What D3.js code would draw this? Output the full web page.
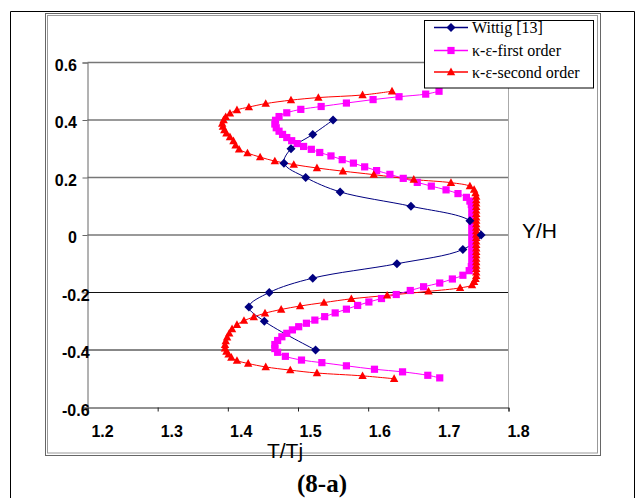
<!DOCTYPE html>
<html>
<head>
<meta charset="utf-8">
<script src="https://cdn.jsdelivr.net/npm/d3@7"></script>
<style>
  html, body { margin: 0; padding: 0; background: #fff; }
  svg { display: block; }
</style>
</head>
<body>
<svg id="chart" width="636" height="498"></svg>
<script>
// ---------------- DATA ----------------
const xTicks = [1.2, 1.3, 1.4, 1.5, 1.6, 1.7, 1.8];
const yTicks = [0.6, 0.4, 0.2, 0, -0.2, -0.4, -0.6];
const seriesNames = ["Wittig [13]", "\u03ba-\u03b5-first order", "\u03ba-\u03b5-second order"];
const xTitle = "T/Tj";
const yTitle = "Y/H";
const caption = "(8-a)";

const wittigT = [1.550, 1.521, 1.490, 1.480, 1.511, 1.560, 1.661, 1.745, 1.761, 1.735, 1.641, 1.521, 1.459, 1.430, 1.452, 1.525];
const wittigY = [0.40, 0.35, 0.30, 0.25, 0.20, 0.15, 0.10, 0.05, 0.00, -0.05, -0.10, -0.15, -0.20, -0.25, -0.30, -0.40];

const firstOrderT = [1.701, 1.682, 1.644, 1.607, 1.569, 1.533, 1.504, 1.484, 1.473, 1.468,
  1.467, 1.469, 1.473, 1.478, 1.484, 1.491, 1.499, 1.508, 1.519, 1.531,
  1.547, 1.563, 1.579, 1.595, 1.612, 1.631, 1.650, 1.670, 1.690, 1.711,
  1.728, 1.740, 1.745, 1.747, 1.748, 1.748, 1.748, 1.748, 1.748, 1.748,
  1.748, 1.748, 1.748, 1.748, 1.748, 1.748, 1.748, 1.748, 1.748, 1.748,
  1.748, 1.747, 1.744, 1.735, 1.720, 1.702, 1.679, 1.660, 1.640, 1.619,
  1.601, 1.585, 1.569, 1.553, 1.538, 1.524, 1.512, 1.501, 1.492, 1.484,
  1.477, 1.471, 1.467, 1.467, 1.471, 1.482, 1.505, 1.534, 1.569, 1.609,
  1.649, 1.685, 1.702];
const firstOrderY = [0.500, 0.490, 0.481, 0.471, 0.459, 0.447, 0.437, 0.425, 0.412, 0.399,
  0.386, 0.373, 0.361, 0.350, 0.339, 0.328, 0.318, 0.308, 0.298, 0.287,
  0.275, 0.262, 0.250, 0.237, 0.224, 0.211, 0.197, 0.183, 0.170, 0.157,
  0.144, 0.131, 0.118, 0.106, 0.094, 0.082, 0.070, 0.058, 0.046, 0.034,
  0.022, 0.010, -0.002, -0.014, -0.026, -0.038, -0.050, -0.062, -0.074, -0.086,
  -0.098, -0.110, -0.124, -0.140, -0.153, -0.167, -0.180, -0.193, -0.207, -0.221,
  -0.233, -0.245, -0.258, -0.271, -0.284, -0.296, -0.307, -0.319, -0.330, -0.342,
  -0.354, -0.367, -0.381, -0.395, -0.408, -0.422, -0.435, -0.444, -0.455, -0.467,
  -0.476, -0.488, -0.497];

const secondOrderT = [1.634, 1.592, 1.529, 1.490, 1.454, 1.430, 1.413, 1.403, 1.397, 1.394,
  1.392, 1.393, 1.395, 1.398, 1.403, 1.408, 1.411, 1.416, 1.428, 1.446,
  1.467, 1.494, 1.527, 1.564, 1.608, 1.665, 1.718, 1.745, 1.751, 1.753,
  1.754, 1.754, 1.754, 1.754, 1.754, 1.754, 1.754, 1.754, 1.754, 1.754,
  1.754, 1.754, 1.754, 1.754, 1.754, 1.754, 1.754, 1.754, 1.754, 1.754,
  1.754, 1.754, 1.754, 1.754, 1.753, 1.751, 1.748, 1.731, 1.686, 1.627,
  1.576, 1.537, 1.503, 1.476, 1.453, 1.437, 1.423, 1.413, 1.406, 1.402,
  1.399, 1.397, 1.396, 1.396, 1.398, 1.401, 1.405, 1.413, 1.429, 1.454,
  1.489, 1.527, 1.592, 1.637];
const secondOrderY = [0.500, 0.487, 0.478, 0.469, 0.457, 0.445, 0.435, 0.423, 0.411, 0.400,
  0.388, 0.377, 0.365, 0.354, 0.341, 0.327, 0.312, 0.298, 0.285, 0.271,
  0.257, 0.245, 0.233, 0.222, 0.210, 0.193, 0.182, 0.170, 0.158, 0.146,
  0.134, 0.122, 0.110, 0.098, 0.086, 0.074, 0.062, 0.050, 0.038, 0.026,
  0.014, 0.002, -0.010, -0.022, -0.034, -0.046, -0.058, -0.070, -0.082, -0.094,
  -0.106, -0.118, -0.130, -0.142, -0.152, -0.163, -0.174, -0.184, -0.196, -0.210,
  -0.222, -0.235, -0.247, -0.259, -0.272, -0.285, -0.298, -0.312, -0.327, -0.342,
  -0.356, -0.369, -0.382, -0.394, -0.405, -0.415, -0.426, -0.437, -0.447, -0.459,
  -0.470, -0.480, -0.490, -0.500];

// ---------------- LAYOUT ----------------
const svg = d3.select("#chart");
const plot = { left: 87.5, right: 508.5, top: 62.5, bottom: 407.5 };
const x = d3.scaleLinear().domain([1.2, 1.8]).range([plot.left, plot.right]);
const y = d3.scaleLinear().domain([-0.6, 0.6]).range([plot.bottom, plot.top]);
const xLabelPos = d3.scaleLinear().domain([1.2, 1.8]).range([102.5, 518.5]);

svg.append("rect").attr("width", 636).attr("height", 498).attr("fill", "#fff");

// outer black frame (open at bottom)
svg.append("path")
  .attr("d", "M10.5,500 V11.5 H634.5 V500")
  .attr("fill", "none").attr("stroke", "#000").attr("stroke-width", 1);

// chart-area double border
svg.append("rect").attr("x", 45.5).attr("y", 13.5).attr("width", 555).attr("height", 442)
  .attr("fill", "none").attr("stroke", "#666").attr("stroke-width", 1);
svg.append("rect").attr("x", 47.5).attr("y", 15.5).attr("width", 550).attr("height", 437.5)
  .attr("fill", "none").attr("stroke", "#999").attr("stroke-width", 1);

// gridlines
svg.append("g").selectAll("line").data(yTicks.filter(v => v > -0.6)).join("line")
  .attr("x1", plot.left).attr("x2", plot.right)
  .attr("y1", d => y(d)).attr("y2", d => y(d))
  .attr("stroke", d => d < 0 ? "#111" : "#777")
  .attr("stroke-width", d => d < 0 ? 1 : 1.3);

// right border of plot area
svg.append("line").attr("x1", plot.right).attr("x2", plot.right)
  .attr("y1", plot.top).attr("y2", plot.bottom)
  .attr("stroke", "#aaa").attr("stroke-width", 1);

// y axis
const yAxis = svg.append("g").attr("transform", `translate(${plot.left},0)`)
  .call(d3.axisLeft(y).tickValues(yTicks).tickSize(5).tickFormat(""));
yAxis.select(".domain").attr("stroke", "#666");
yAxis.selectAll(".tick line").attr("stroke", "#666");
svg.append("g").selectAll("text").data(yTicks).join("text")
  .attr("x", d => d < 0 ? 62 : 77)
  .attr("y", d => y(d) + 8)
  .attr("text-anchor", d => d < 0 ? "start" : "end")
  .attr("font-family", "'Liberation Sans', Arial, sans-serif")
  .attr("font-weight", "bold").attr("font-size", 16)
  .text(d => String(d));

// x axis
const xAxis = svg.append("g").attr("transform", `translate(0,${plot.bottom})`)
  .call(d3.axisBottom(x).tickValues(xTicks).tickSize(4).tickFormat(""));
xAxis.select(".domain").attr("stroke", "#222");
xAxis.selectAll(".tick line").attr("stroke", "#222");
svg.append("g").selectAll("text").data(xTicks).join("text")
  .attr("x", d => xLabelPos(d))
  .attr("y", 437)
  .attr("text-anchor", "middle")
  .attr("font-family", "'Liberation Sans', Arial, sans-serif")
  .attr("font-weight", "bold").attr("font-size", 16)
  .text(d => d.toFixed(1));

// axis titles
svg.append("text").attr("x", 285).attr("y", 458).attr("text-anchor", "middle")
  .attr("font-family", "'Liberation Sans', Arial, sans-serif").attr("font-size", 21)
  .text(xTitle);
svg.append("text").attr("x", 522).attr("y", 238)
  .attr("font-family", "'Liberation Sans', Arial, sans-serif").attr("font-size", 21)
  .text(yTitle);

// caption
svg.append("text").attr("x", 322).attr("y", 492).attr("text-anchor", "middle")
  .attr("font-family", "'Liberation Serif', 'Times New Roman', serif")
  .attr("font-weight", "bold").attr("font-size", 25)
  .text(caption);

// ---------------- SERIES ----------------
const series = [
  { name: seriesNames[0], T: wittigT, Y: wittigY, color: "#000080", shape: "diamond" },
  { name: seriesNames[1], T: firstOrderT, Y: firstOrderY, color: "#ff00ff", shape: "square" },
  { name: seriesNames[2], T: secondOrderT, Y: secondOrderY, color: "#ff0000", shape: "triangle" }
];
series.forEach(s => { s.points = s.T.map((t, i) => [t, s.Y[i]]); });

const line = d3.line().x(d => x(d[0])).y(d => y(d[1])).curve(d3.curveCatmullRom.alpha(0.5));

function markerPath(shape) {
  if (shape === "diamond") return "M0,-4.5 L4.5,0 L0,4.5 L-4.5,0 Z";
  if (shape === "square") return "M-3.6,-3.6 H3.6 V3.6 H-3.6 Z";
  return "M0,-4.4 L4.2,3.2 L-4.2,3.2 Z";
}

series.forEach(s => {
  svg.append("path").datum(s.points)
    .attr("d", line).attr("fill", "none")
    .attr("stroke", s.color).attr("stroke-width", 1);
});
[series[1], series[2], series[0]].forEach(s => {
  svg.append("g").selectAll("path").data(s.points).join("path")
    .attr("transform", d => `translate(${x(d[0])},${y(d[1])})`)
    .attr("d", markerPath(s.shape))
    .attr("fill", s.color);
});

// ---------------- LEGEND ----------------
const legend = svg.append("g");
legend.append("rect").attr("x", 424.5).attr("y", 20.5).attr("width", 169).attr("height", 67.5)
  .attr("fill", "#fff").attr("stroke", "#000").attr("stroke-width", 1);
const legendRows = [27.5, 50.5, 72];
series.forEach((s, i) => {
  const ly = legendRows[i];
  legend.append("line").attr("x1", 434).attr("x2", 468).attr("y1", ly).attr("y2", ly)
    .attr("stroke", s.color).attr("stroke-width", 1.5);
  legend.append("path").attr("transform", `translate(451,${ly})`)
    .attr("d", markerPath(s.shape)).attr("fill", s.color);
  legend.append("text").attr("x", 472).attr("y", ly + 5.5)
    .attr("font-family", "'Liberation Serif', 'Times New Roman', serif")
    .attr("font-size", 16).attr("fill", "#000")
    .text(s.name);
});
</script>
</body>
</html>
